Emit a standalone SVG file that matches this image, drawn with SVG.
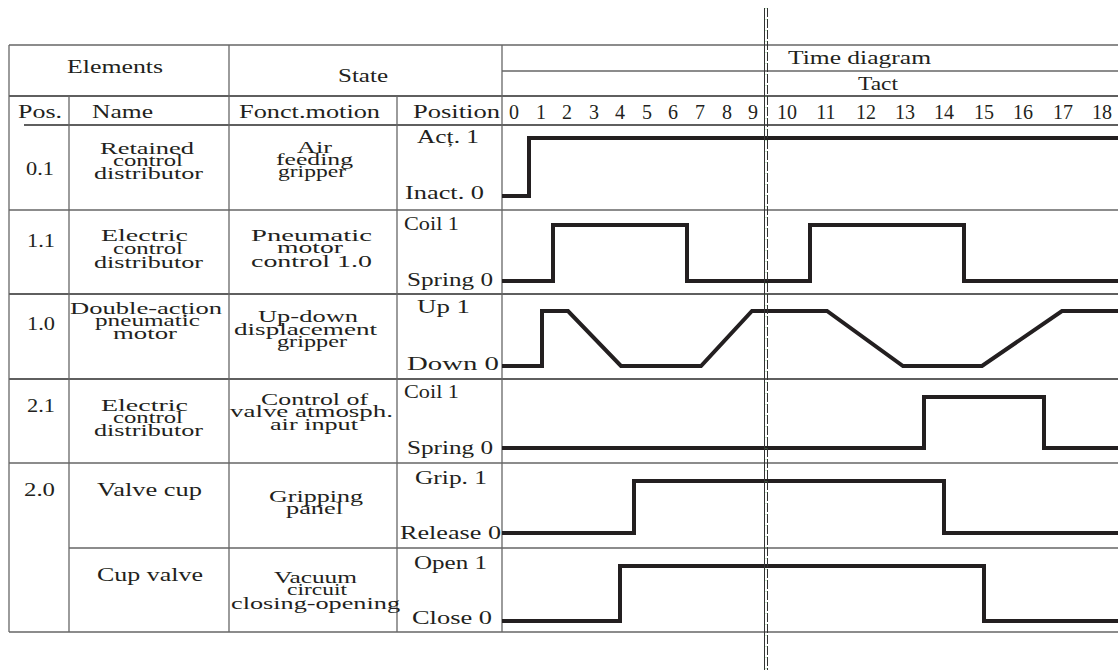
<svg xmlns="http://www.w3.org/2000/svg" width="1118" height="670" viewBox="0 0 1118 670">
<style>
.t{font-family:"Liberation Serif","Times New Roman",serif;font-size:19px;fill:#231f20}
.s{font-size:17.5px}
.n{font-size:20px;text-anchor:middle}
.g{stroke:#666;stroke-width:1.3;fill:none}
.d{stroke:#2a2a2a;stroke-width:1.3;fill:none}
.w{stroke:#231f20;stroke-width:4;fill:none;stroke-linejoin:miter;stroke-linecap:butt}
</style>
<rect width="1118" height="670" fill="#fff"/>
<g id="grid">
<line class="g" x1="9" y1="45" x2="1118" y2="45"/>
<line class="g" x1="502" y1="71" x2="1118" y2="71"/>
<line class="d" x1="9" y1="96" x2="1118" y2="96"/>
<line class="d" x1="24" y1="125" x2="1118" y2="125"/>
<line class="g" x1="9" y1="210" x2="1118" y2="210"/>
<line class="d" x1="9" y1="294" x2="1118" y2="294"/>
<line class="d" x1="9" y1="379" x2="1118" y2="379"/>
<line class="g" x1="9" y1="463" x2="1118" y2="463"/>
<line class="g" x1="69" y1="548" x2="1118" y2="548"/>
<line class="g" x1="9" y1="632" x2="1118" y2="632"/>
<line class="g" x1="9" y1="45" x2="9" y2="632"/>
<line class="g" x1="69" y1="96" x2="69" y2="632"/>
<line class="g" x1="229" y1="45" x2="229" y2="632"/>
<line class="g" x1="397" y1="96" x2="397" y2="632"/>
<line class="g" x1="502" y1="45" x2="502" y2="632"/>
</g>
<g id="header">
<text class="t" x="67" y="73" textLength="96" lengthAdjust="spacingAndGlyphs">Elements</text>
<text class="t" x="338" y="82" textLength="50" lengthAdjust="spacingAndGlyphs">State</text>
<text class="t" x="788" y="64" textLength="143" lengthAdjust="spacingAndGlyphs">Time diagram</text>
<text class="t" x="858" y="90" textLength="40" lengthAdjust="spacingAndGlyphs">Tact</text>
<text class="t" x="18" y="118" textLength="44" lengthAdjust="spacingAndGlyphs">Pos.</text>
<text class="t" x="92" y="118" textLength="61" lengthAdjust="spacingAndGlyphs">Name</text>
<text class="t" x="239" y="118" textLength="141" lengthAdjust="spacingAndGlyphs">Fonct.motion</text>
<text class="t" x="413" y="118" textLength="87" lengthAdjust="spacingAndGlyphs">Position</text>
<g class="t n">
<text x="514" y="119">0</text><text x="541" y="119">1</text><text x="567" y="119">2</text><text x="594" y="119">3</text><text x="620" y="119">4</text><text x="647" y="119">5</text><text x="673" y="119">6</text><text x="700" y="119">7</text><text x="727" y="119">8</text><text x="753" y="119">9</text>
<text x="787" y="119">10</text><text x="826" y="119">11</text><text x="866" y="119">12</text><text x="905" y="119">13</text><text x="944" y="119">14</text><text x="984" y="119">15</text><text x="1023" y="119">16</text><text x="1063" y="119">17</text><text x="1102" y="119">18</text>
</g>
</g>
<g id="row-0-1">
<text class="t" x="26" y="175" textLength="28" lengthAdjust="spacingAndGlyphs">0.1</text>
<text class="t s" x="100" y="154" textLength="94" lengthAdjust="spacingAndGlyphs">Retained</text>
<text class="t s" x="113" y="166" textLength="70" lengthAdjust="spacingAndGlyphs">control</text>
<text class="t s" x="94" y="179" textLength="109" lengthAdjust="spacingAndGlyphs">distributor</text>
<text class="t s" x="297" y="153" textLength="35" lengthAdjust="spacingAndGlyphs">Air</text>
<text class="t s" x="276" y="165" textLength="77" lengthAdjust="spacingAndGlyphs">feeding</text>
<text class="t s" x="278" y="177" textLength="68" lengthAdjust="spacingAndGlyphs">gripper</text>
<text class="t" x="417" y="143" textLength="62" lengthAdjust="spacingAndGlyphs">Acț. 1</text>
<text class="t" x="405" y="199" textLength="79" lengthAdjust="spacingAndGlyphs">Inact. 0</text>
</g>
<g id="row-1-1">
<text class="t" x="27" y="247" textLength="28" lengthAdjust="spacingAndGlyphs">1.1</text>
<text class="t s" x="101" y="241" textLength="87" lengthAdjust="spacingAndGlyphs">Electric</text>
<text class="t s" x="113" y="254" textLength="70" lengthAdjust="spacingAndGlyphs">control</text>
<text class="t s" x="94" y="268" textLength="109" lengthAdjust="spacingAndGlyphs">distributor</text>
<text class="t s" x="251" y="241" textLength="121" lengthAdjust="spacingAndGlyphs">Pneumatic</text>
<text class="t s" x="277" y="253" textLength="66" lengthAdjust="spacingAndGlyphs">motor</text>
<text class="t s" x="251" y="267" textLength="121" lengthAdjust="spacingAndGlyphs">control 1.0</text>
<text class="t" x="404" y="230" textLength="55" lengthAdjust="spacingAndGlyphs">Coil 1</text>
<text class="t" x="407" y="286" textLength="86" lengthAdjust="spacingAndGlyphs">Spring 0</text>
</g>
<g id="row-1-0">
<text class="t" x="27" y="330" textLength="28" lengthAdjust="spacingAndGlyphs">1.0</text>
<text class="t s" x="70" y="314" textLength="152" lengthAdjust="spacingAndGlyphs">Double-acțion</text>
<text class="t s" x="95" y="326" textLength="105" lengthAdjust="spacingAndGlyphs">pneumatic</text>
<text class="t s" x="113" y="339" textLength="64" lengthAdjust="spacingAndGlyphs">motor</text>
<text class="t s" x="258" y="322" textLength="100" lengthAdjust="spacingAndGlyphs">Up-down</text>
<text class="t s" x="234" y="335" textLength="143" lengthAdjust="spacingAndGlyphs">displacement</text>
<text class="t s" x="277" y="347" textLength="70" lengthAdjust="spacingAndGlyphs">gripper</text>
<text class="t" x="417" y="313" textLength="53" lengthAdjust="spacingAndGlyphs">Up 1</text>
<text class="t" x="407" y="370" textLength="92" lengthAdjust="spacingAndGlyphs">Down 0</text>
</g>
<g id="row-2-1">
<text class="t" x="27" y="412" textLength="28" lengthAdjust="spacingAndGlyphs">2.1</text>
<text class="t s" x="101" y="411" textLength="87" lengthAdjust="spacingAndGlyphs">Electric</text>
<text class="t s" x="113" y="423" textLength="70" lengthAdjust="spacingAndGlyphs">control</text>
<text class="t s" x="94" y="436" textLength="109" lengthAdjust="spacingAndGlyphs">distributor</text>
<text class="t s" x="261" y="405" textLength="107" lengthAdjust="spacingAndGlyphs">Control of</text>
<text class="t s" x="230" y="417" textLength="163" lengthAdjust="spacingAndGlyphs">valve atmosph.</text>
<text class="t s" x="270" y="430" textLength="88" lengthAdjust="spacingAndGlyphs">air input</text>
<text class="t" x="404" y="398" textLength="55" lengthAdjust="spacingAndGlyphs">Coil 1</text>
<text class="t" x="407" y="454" textLength="86" lengthAdjust="spacingAndGlyphs">Spring 0</text>
</g>
<g id="row-2-0">
<text class="t" x="24" y="496" textLength="31" lengthAdjust="spacingAndGlyphs">2.0</text>
<text class="t" x="97" y="496" textLength="105" lengthAdjust="spacingAndGlyphs">Valve cup</text>
<text class="t s" x="269" y="502" textLength="94" lengthAdjust="spacingAndGlyphs">Gripping</text>
<text class="t s" x="286" y="514" textLength="57" lengthAdjust="spacingAndGlyphs">panel</text>
<text class="t" x="415" y="484" textLength="72" lengthAdjust="spacingAndGlyphs">Grip. 1</text>
<text class="t" x="400" y="539" textLength="101" lengthAdjust="spacingAndGlyphs">Release 0</text>
</g>
<g id="row-cup-valve">
<text class="t" x="97" y="581" textLength="106" lengthAdjust="spacingAndGlyphs">Cup valve</text>
<text class="t s" x="274" y="583" textLength="83" lengthAdjust="spacingAndGlyphs">Vacuum</text>
<text class="t s" x="287" y="595" textLength="60" lengthAdjust="spacingAndGlyphs">circuit</text>
<text class="t s" x="231" y="609" textLength="169" lengthAdjust="spacingAndGlyphs">closing-opening</text>
<text class="t" x="414" y="569" textLength="73" lengthAdjust="spacingAndGlyphs">Open 1</text>
<text class="t" x="412" y="624" textLength="80" lengthAdjust="spacingAndGlyphs">Close 0</text>
</g>
<g id="connectors">
<path class="w" d="M502,196 H529 V138 H1118"/>
<path class="w" d="M502,281 H553 V225 H687 V281 H810 V225 H964 V281 H1118"/>
<path class="w" d="M502,366 H542 V311 H568 L621,366 H701 L752,311 H827 L903,366 H982 L1062,311 H1118"/>
<path class="w" d="M502,448 H924 V397 H1044 V448 H1118"/>
<path class="w" d="M502,533 H634 V481 H944 V533 H1118"/>
<path class="w" d="M502,621 H620 V566 H984 V621 H1118"/>
<line x1="764.5" y1="8" x2="764.5" y2="670" stroke="#333" stroke-width="1"/>
<line x1="767.5" y1="8" x2="767.5" y2="670" stroke="#333" stroke-width="1" stroke-dasharray="9,2"/>
<line x1="766" y1="8" x2="766" y2="670" stroke="#6c6" stroke-width="0.6" stroke-dasharray="1,10"/>
</g>
</svg>
